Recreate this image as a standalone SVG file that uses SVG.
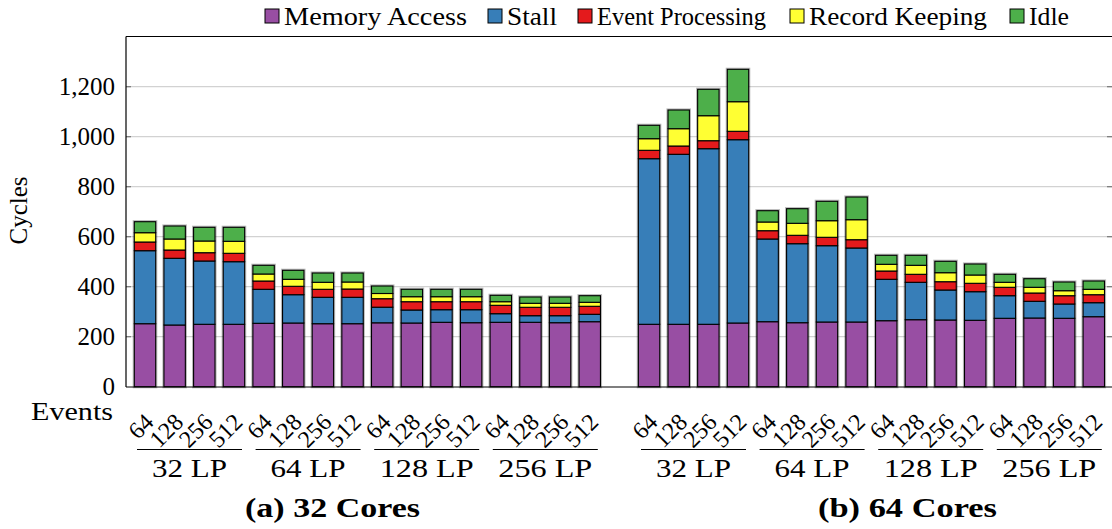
<svg xmlns="http://www.w3.org/2000/svg" width="1112" height="529" viewBox="0 0 1112 529" font-family="'Liberation Serif', 'Times New Roman', 'DejaVu Serif', serif">
<style>
text{font-family:'Liberation Serif','Times New Roman','DejaVu Serif',serif;fill:#000}
.t{font-size:25px}
.tk{font-size:24px}
.cap{font-size:27px;font-weight:bold}
.grid{stroke:#d2d2d2;stroke-width:1.3}
.tick{stroke:#777;stroke-width:1.2}
.frame{stroke:#000;stroke-width:1.2;fill:none}
.sh{fill:none;stroke:#000;stroke-opacity:.28;stroke-width:3.2}
.seg{stroke:#000;stroke-width:1.1}
.p{fill:#984EA3}.b{fill:#377EB8}.r{fill:#E41A1C}.y{fill:#FFFF33}.g{fill:#4DAF4A}
.gl{stroke:#000;stroke-width:1.2}
.lg{stroke:#000;stroke-width:1}
</style>

<g id="grid">
<line class="grid" x1="126" y1="336.7" x2="1112" y2="336.7"/>
<line class="grid" x1="126" y1="286.7" x2="1112" y2="286.7"/>
<line class="grid" x1="126" y1="236.7" x2="1112" y2="236.7"/>
<line class="grid" x1="126" y1="186.7" x2="1112" y2="186.7"/>
<line class="grid" x1="126" y1="136.7" x2="1112" y2="136.7"/>
<line class="grid" x1="126" y1="86.7" x2="1112" y2="86.7"/>
<g class="tick">
<line x1="126" y1="336.7" x2="131" y2="336.7"/><line x1="1107" y1="336.7" x2="1112" y2="336.7"/>
<line x1="126" y1="286.7" x2="131" y2="286.7"/><line x1="1107" y1="286.7" x2="1112" y2="286.7"/>
<line x1="126" y1="236.7" x2="131" y2="236.7"/><line x1="1107" y1="236.7" x2="1112" y2="236.7"/>
<line x1="126" y1="186.7" x2="131" y2="186.7"/><line x1="1107" y1="186.7" x2="1112" y2="186.7"/>
<line x1="126" y1="136.7" x2="131" y2="136.7"/><line x1="1107" y1="136.7" x2="1112" y2="136.7"/>
<line x1="126" y1="86.7" x2="131" y2="86.7"/><line x1="1107" y1="86.7" x2="1112" y2="86.7"/>
</g>
</g>

<g id="bars">
<g id="bar-32c-32lp-64" transform="translate(134.3,0)"><rect class="sh" x="0" y="221.7" width="21.4" height="165"/><rect class="seg p" x="0" y="323.7" width="21.4" height="63"/><rect class="seg b" x="0" y="250.7" width="21.4" height="73"/><rect class="seg r" x="0" y="242" width="21.4" height="8.7"/><rect class="seg y" x="0" y="232.7" width="21.4" height="9.3"/><rect class="seg g" x="0" y="221.7" width="21.4" height="11"/></g>
<g id="bar-32c-32lp-128" transform="translate(163.95,0)"><rect class="sh" x="0" y="226" width="21.4" height="160.7"/><rect class="seg p" x="0" y="325" width="21.4" height="61.7"/><rect class="seg b" x="0" y="258.3" width="21.4" height="66.7"/><rect class="seg r" x="0" y="250" width="21.4" height="8.3"/><rect class="seg y" x="0" y="239" width="21.4" height="11"/><rect class="seg g" x="0" y="226" width="21.4" height="13"/></g>
<g id="bar-32c-32lp-256" transform="translate(193.6,0)"><rect class="sh" x="0" y="227.3" width="21.4" height="159.4"/><rect class="seg p" x="0" y="324.3" width="21.4" height="62.4"/><rect class="seg b" x="0" y="261" width="21.4" height="63.3"/><rect class="seg r" x="0" y="252.7" width="21.4" height="8.3"/><rect class="seg y" x="0" y="241" width="21.4" height="11.7"/><rect class="seg g" x="0" y="227.3" width="21.4" height="13.7"/></g>
<g id="bar-32c-32lp-512" transform="translate(223.25,0)"><rect class="sh" x="0" y="227.3" width="21.4" height="159.4"/><rect class="seg p" x="0" y="324.3" width="21.4" height="62.4"/><rect class="seg b" x="0" y="261.7" width="21.4" height="62.6"/><rect class="seg r" x="0" y="253.3" width="21.4" height="8.4"/><rect class="seg y" x="0" y="241.3" width="21.4" height="12"/><rect class="seg g" x="0" y="227.3" width="21.4" height="14"/></g>
<g id="bar-32c-64lp-64" transform="translate(252.9,0)"><rect class="sh" x="0" y="265.3" width="21.4" height="121.4"/><rect class="seg p" x="0" y="323.3" width="21.4" height="63.4"/><rect class="seg b" x="0" y="289.3" width="21.4" height="34"/><rect class="seg r" x="0" y="281" width="21.4" height="8.3"/><rect class="seg y" x="0" y="274" width="21.4" height="7"/><rect class="seg g" x="0" y="265.3" width="21.4" height="8.7"/></g>
<g id="bar-32c-64lp-128" transform="translate(282.55,0)"><rect class="sh" x="0" y="270.3" width="21.4" height="116.4"/><rect class="seg p" x="0" y="323" width="21.4" height="63.7"/><rect class="seg b" x="0" y="294.7" width="21.4" height="28.3"/><rect class="seg r" x="0" y="286.3" width="21.4" height="8.4"/><rect class="seg y" x="0" y="279.3" width="21.4" height="7"/><rect class="seg g" x="0" y="270.3" width="21.4" height="9"/></g>
<g id="bar-32c-64lp-256" transform="translate(312.2,0)"><rect class="sh" x="0" y="273" width="21.4" height="113.7"/><rect class="seg p" x="0" y="323.7" width="21.4" height="63"/><rect class="seg b" x="0" y="297.3" width="21.4" height="26.4"/><rect class="seg r" x="0" y="289.3" width="21.4" height="8"/><rect class="seg y" x="0" y="282.3" width="21.4" height="7"/><rect class="seg g" x="0" y="273" width="21.4" height="9.3"/></g>
<g id="bar-32c-64lp-512" transform="translate(341.85,0)"><rect class="sh" x="0" y="273" width="21.4" height="113.7"/><rect class="seg p" x="0" y="323.7" width="21.4" height="63"/><rect class="seg b" x="0" y="297.3" width="21.4" height="26.4"/><rect class="seg r" x="0" y="289" width="21.4" height="8.3"/><rect class="seg y" x="0" y="282" width="21.4" height="7"/><rect class="seg g" x="0" y="273" width="21.4" height="9"/></g>
<g id="bar-32c-128lp-64" transform="translate(371.5,0)"><rect class="sh" x="0" y="286" width="21.4" height="100.7"/><rect class="seg p" x="0" y="322.8" width="21.4" height="63.9"/><rect class="seg b" x="0" y="307.2" width="21.4" height="15.6"/><rect class="seg r" x="0" y="298.7" width="21.4" height="8.5"/><rect class="seg y" x="0" y="293.5" width="21.4" height="5.2"/><rect class="seg g" x="0" y="286" width="21.4" height="7.5"/></g>
<g id="bar-32c-128lp-128" transform="translate(401.15,0)"><rect class="sh" x="0" y="289.3" width="21.4" height="97.4"/><rect class="seg p" x="0" y="323" width="21.4" height="63.7"/><rect class="seg b" x="0" y="310" width="21.4" height="13"/><rect class="seg r" x="0" y="301.7" width="21.4" height="8.3"/><rect class="seg y" x="0" y="296.7" width="21.4" height="5"/><rect class="seg g" x="0" y="289.3" width="21.4" height="7.4"/></g>
<g id="bar-32c-128lp-256" transform="translate(430.8,0)"><rect class="sh" x="0" y="289.3" width="21.4" height="97.4"/><rect class="seg p" x="0" y="322.3" width="21.4" height="64.4"/><rect class="seg b" x="0" y="309.7" width="21.4" height="12.6"/><rect class="seg r" x="0" y="301.7" width="21.4" height="8"/><rect class="seg y" x="0" y="296.7" width="21.4" height="5"/><rect class="seg g" x="0" y="289.3" width="21.4" height="7.4"/></g>
<g id="bar-32c-128lp-512" transform="translate(460.45,0)"><rect class="sh" x="0" y="289.3" width="21.4" height="97.4"/><rect class="seg p" x="0" y="322.7" width="21.4" height="64"/><rect class="seg b" x="0" y="309.7" width="21.4" height="13"/><rect class="seg r" x="0" y="301.7" width="21.4" height="8"/><rect class="seg y" x="0" y="296.7" width="21.4" height="5"/><rect class="seg g" x="0" y="289.3" width="21.4" height="7.4"/></g>
<g id="bar-32c-256lp-64" transform="translate(490.1,0)"><rect class="sh" x="0" y="295.3" width="21.4" height="91.4"/><rect class="seg p" x="0" y="322.3" width="21.4" height="64.4"/><rect class="seg b" x="0" y="313.7" width="21.4" height="8.6"/><rect class="seg r" x="0" y="305.3" width="21.4" height="8.4"/><rect class="seg y" x="0" y="301.7" width="21.4" height="3.6"/><rect class="seg g" x="0" y="295.3" width="21.4" height="6.4"/></g>
<g id="bar-32c-256lp-128" transform="translate(519.75,0)"><rect class="sh" x="0" y="297" width="21.4" height="89.7"/><rect class="seg p" x="0" y="322.3" width="21.4" height="64.4"/><rect class="seg b" x="0" y="315.7" width="21.4" height="6.6"/><rect class="seg r" x="0" y="307.3" width="21.4" height="8.4"/><rect class="seg y" x="0" y="303.3" width="21.4" height="4"/><rect class="seg g" x="0" y="297" width="21.4" height="6.3"/></g>
<g id="bar-32c-256lp-256" transform="translate(549.4,0)"><rect class="sh" x="0" y="297" width="21.4" height="89.7"/><rect class="seg p" x="0" y="322.7" width="21.4" height="64"/><rect class="seg b" x="0" y="315.7" width="21.4" height="7"/><rect class="seg r" x="0" y="307.3" width="21.4" height="8.4"/><rect class="seg y" x="0" y="303.3" width="21.4" height="4"/><rect class="seg g" x="0" y="297" width="21.4" height="6.3"/></g>
<g id="bar-32c-256lp-512" transform="translate(579.05,0)"><rect class="sh" x="0" y="295.7" width="21.4" height="91"/><rect class="seg p" x="0" y="321.7" width="21.4" height="65"/><rect class="seg b" x="0" y="314.3" width="21.4" height="7.4"/><rect class="seg r" x="0" y="306.3" width="21.4" height="8"/><rect class="seg y" x="0" y="302.3" width="21.4" height="4"/><rect class="seg g" x="0" y="295.7" width="21.4" height="6.6"/></g>

<g id="bar-64c-32lp-64" transform="translate(638.35,0)"><rect class="sh" x="0" y="125.3" width="21.4" height="261.4"/><rect class="seg p" x="0" y="324.3" width="21.4" height="62.4"/><rect class="seg b" x="0" y="158.7" width="21.4" height="165.6"/><rect class="seg r" x="0" y="150.3" width="21.4" height="8.4"/><rect class="seg y" x="0" y="138.7" width="21.4" height="11.6"/><rect class="seg g" x="0" y="125.3" width="21.4" height="13.4"/></g>
<g id="bar-64c-32lp-128" transform="translate(668,0)"><rect class="sh" x="0" y="110" width="21.4" height="276.7"/><rect class="seg p" x="0" y="324.3" width="21.4" height="62.4"/><rect class="seg b" x="0" y="154.3" width="21.4" height="170"/><rect class="seg r" x="0" y="146" width="21.4" height="8.3"/><rect class="seg y" x="0" y="128.7" width="21.4" height="17.3"/><rect class="seg g" x="0" y="110" width="21.4" height="18.7"/></g>
<g id="bar-64c-32lp-256" transform="translate(697.65,0)"><rect class="sh" x="0" y="89.3" width="21.4" height="297.4"/><rect class="seg p" x="0" y="324.3" width="21.4" height="62.4"/><rect class="seg b" x="0" y="148.7" width="21.4" height="175.6"/><rect class="seg r" x="0" y="140.7" width="21.4" height="8"/><rect class="seg y" x="0" y="115.7" width="21.4" height="25"/><rect class="seg g" x="0" y="89.3" width="21.4" height="26.4"/></g>
<g id="bar-64c-32lp-512" transform="translate(727.3,0)"><rect class="sh" x="0" y="69.3" width="21.4" height="317.4"/><rect class="seg p" x="0" y="323" width="21.4" height="63.7"/><rect class="seg b" x="0" y="139.7" width="21.4" height="183.3"/><rect class="seg r" x="0" y="131.3" width="21.4" height="8.4"/><rect class="seg y" x="0" y="101.7" width="21.4" height="29.6"/><rect class="seg g" x="0" y="69.3" width="21.4" height="32.4"/></g>
<g id="bar-64c-64lp-64" transform="translate(756.95,0)"><rect class="sh" x="0" y="210.7" width="21.4" height="176"/><rect class="seg p" x="0" y="321.7" width="21.4" height="65"/><rect class="seg b" x="0" y="239" width="21.4" height="82.7"/><rect class="seg r" x="0" y="230.7" width="21.4" height="8.3"/><rect class="seg y" x="0" y="222" width="21.4" height="8.7"/><rect class="seg g" x="0" y="210.7" width="21.4" height="11.3"/></g>
<g id="bar-64c-64lp-128" transform="translate(786.6,0)"><rect class="sh" x="0" y="208.7" width="21.4" height="178"/><rect class="seg p" x="0" y="322.7" width="21.4" height="64"/><rect class="seg b" x="0" y="243.7" width="21.4" height="79"/><rect class="seg r" x="0" y="235.3" width="21.4" height="8.4"/><rect class="seg y" x="0" y="223.3" width="21.4" height="12"/><rect class="seg g" x="0" y="208.7" width="21.4" height="14.6"/></g>
<g id="bar-64c-64lp-256" transform="translate(816.25,0)"><rect class="sh" x="0" y="201.3" width="21.4" height="185.4"/><rect class="seg p" x="0" y="322" width="21.4" height="64.7"/><rect class="seg b" x="0" y="245.7" width="21.4" height="76.3"/><rect class="seg r" x="0" y="237.3" width="21.4" height="8.4"/><rect class="seg y" x="0" y="220.7" width="21.4" height="16.6"/><rect class="seg g" x="0" y="201.3" width="21.4" height="19.4"/></g>
<g id="bar-64c-64lp-512" transform="translate(845.9,0)"><rect class="sh" x="0" y="197" width="21.4" height="189.7"/><rect class="seg p" x="0" y="322" width="21.4" height="64.7"/><rect class="seg b" x="0" y="248" width="21.4" height="74"/><rect class="seg r" x="0" y="239.7" width="21.4" height="8.3"/><rect class="seg y" x="0" y="219.7" width="21.4" height="20"/><rect class="seg g" x="0" y="197" width="21.4" height="22.7"/></g>
<g id="bar-64c-128lp-64" transform="translate(875.55,0)"><rect class="sh" x="0" y="255.3" width="21.4" height="131.4"/><rect class="seg p" x="0" y="320.7" width="21.4" height="66"/><rect class="seg b" x="0" y="279.3" width="21.4" height="41.4"/><rect class="seg r" x="0" y="271" width="21.4" height="8.3"/><rect class="seg y" x="0" y="264.3" width="21.4" height="6.7"/><rect class="seg g" x="0" y="255.3" width="21.4" height="9"/></g>
<g id="bar-64c-128lp-128" transform="translate(905.2,0)"><rect class="sh" x="0" y="255.3" width="21.4" height="131.4"/><rect class="seg p" x="0" y="319.7" width="21.4" height="67"/><rect class="seg b" x="0" y="282.3" width="21.4" height="37.4"/><rect class="seg r" x="0" y="274.3" width="21.4" height="8"/><rect class="seg y" x="0" y="265.3" width="21.4" height="9"/><rect class="seg g" x="0" y="255.3" width="21.4" height="10"/></g>
<g id="bar-64c-128lp-256" transform="translate(934.85,0)"><rect class="sh" x="0" y="261.3" width="21.4" height="125.4"/><rect class="seg p" x="0" y="320" width="21.4" height="66.7"/><rect class="seg b" x="0" y="290" width="21.4" height="30"/><rect class="seg r" x="0" y="281.7" width="21.4" height="8.3"/><rect class="seg y" x="0" y="272.7" width="21.4" height="9"/><rect class="seg g" x="0" y="261.3" width="21.4" height="11.4"/></g>
<g id="bar-64c-128lp-512" transform="translate(964.5,0)"><rect class="sh" x="0" y="264" width="21.4" height="122.7"/><rect class="seg p" x="0" y="320.3" width="21.4" height="66.4"/><rect class="seg b" x="0" y="291.7" width="21.4" height="28.6"/><rect class="seg r" x="0" y="283.3" width="21.4" height="8.4"/><rect class="seg y" x="0" y="275" width="21.4" height="8.3"/><rect class="seg g" x="0" y="264" width="21.4" height="11"/></g>
<g id="bar-64c-256lp-64" transform="translate(994.15,0)"><rect class="sh" x="0" y="274.3" width="21.4" height="112.4"/><rect class="seg p" x="0" y="318.3" width="21.4" height="68.4"/><rect class="seg b" x="0" y="295.7" width="21.4" height="22.6"/><rect class="seg r" x="0" y="287.3" width="21.4" height="8.4"/><rect class="seg y" x="0" y="282.3" width="21.4" height="5"/><rect class="seg g" x="0" y="274.3" width="21.4" height="8"/></g>
<g id="bar-64c-256lp-128" transform="translate(1023.8,0)"><rect class="sh" x="0" y="278.7" width="21.4" height="108"/><rect class="seg p" x="0" y="318" width="21.4" height="68.7"/><rect class="seg b" x="0" y="301.3" width="21.4" height="16.7"/><rect class="seg r" x="0" y="293" width="21.4" height="8.3"/><rect class="seg y" x="0" y="287.3" width="21.4" height="5.7"/><rect class="seg g" x="0" y="278.7" width="21.4" height="8.6"/></g>
<g id="bar-64c-256lp-256" transform="translate(1053.45,0)"><rect class="sh" x="0" y="282" width="21.4" height="104.7"/><rect class="seg p" x="0" y="318.3" width="21.4" height="68.4"/><rect class="seg b" x="0" y="304" width="21.4" height="14.3"/><rect class="seg r" x="0" y="295.7" width="21.4" height="8.3"/><rect class="seg y" x="0" y="290.7" width="21.4" height="5"/><rect class="seg g" x="0" y="282" width="21.4" height="8.7"/></g>
<g id="bar-64c-256lp-512" transform="translate(1083.1,0)"><rect class="sh" x="0" y="281" width="21.4" height="105.7"/><rect class="seg p" x="0" y="316.7" width="21.4" height="70"/><rect class="seg b" x="0" y="302.7" width="21.4" height="14"/><rect class="seg r" x="0" y="294.7" width="21.4" height="8"/><rect class="seg y" x="0" y="289.3" width="21.4" height="5.4"/><rect class="seg g" x="0" y="281" width="21.4" height="8.3"/></g>
</g>

<g id="axes">
<line class="frame" x1="126" y1="36.5" x2="1112" y2="36.5"/>
<line class="frame" x1="126" y1="36.5" x2="126" y2="387"/>
<line class="frame" x1="126" y1="387" x2="1112" y2="387"/>
</g>

<g id="y-labels" class="t" text-anchor="end" font-family="'Liberation Serif', serif" font-size="25">
<text x="115" y="395">0</text>
<text x="115" y="345">200</text>
<text x="115" y="295">400</text>
<text x="115" y="245">600</text>
<text x="115" y="195">800</text>
<text x="115" y="145">1,000</text>
<text x="115" y="95">1,200</text>
</g>
<text id="y-title" class="t" font-family="'Liberation Serif', serif" font-size="25" text-anchor="middle" transform="translate(27,210.5) rotate(-90)">Cycles</text>
<text id="x-title" class="t" font-family="'Liberation Serif', serif" font-size="25" x="113" y="420" text-anchor="end" textLength="82" lengthAdjust="spacingAndGlyphs">Events</text>

<g id="x-labels" class="tk" text-anchor="end" font-family="'Liberation Serif', serif" font-size="24">
<text transform="translate(155,423.5) rotate(-45)">64</text>
<text transform="translate(184.65,423.5) rotate(-45)">128</text>
<text transform="translate(214.3,423.5) rotate(-45)">256</text>
<text transform="translate(243.95,423.5) rotate(-45)">512</text>
<text transform="translate(273.6,423.5) rotate(-45)">64</text>
<text transform="translate(303.25,423.5) rotate(-45)">128</text>
<text transform="translate(332.9,423.5) rotate(-45)">256</text>
<text transform="translate(362.55,423.5) rotate(-45)">512</text>
<text transform="translate(392.2,423.5) rotate(-45)">64</text>
<text transform="translate(421.85,423.5) rotate(-45)">128</text>
<text transform="translate(451.5,423.5) rotate(-45)">256</text>
<text transform="translate(481.15,423.5) rotate(-45)">512</text>
<text transform="translate(510.8,423.5) rotate(-45)">64</text>
<text transform="translate(540.45,423.5) rotate(-45)">128</text>
<text transform="translate(570.1,423.5) rotate(-45)">256</text>
<text transform="translate(599.75,423.5) rotate(-45)">512</text>
<text transform="translate(659.05,423.5) rotate(-45)">64</text>
<text transform="translate(688.7,423.5) rotate(-45)">128</text>
<text transform="translate(718.35,423.5) rotate(-45)">256</text>
<text transform="translate(748,423.5) rotate(-45)">512</text>
<text transform="translate(777.65,423.5) rotate(-45)">64</text>
<text transform="translate(807.3,423.5) rotate(-45)">128</text>
<text transform="translate(836.95,423.5) rotate(-45)">256</text>
<text transform="translate(866.6,423.5) rotate(-45)">512</text>
<text transform="translate(896.25,423.5) rotate(-45)">64</text>
<text transform="translate(925.9,423.5) rotate(-45)">128</text>
<text transform="translate(955.55,423.5) rotate(-45)">256</text>
<text transform="translate(985.2,423.5) rotate(-45)">512</text>
<text transform="translate(1014.85,423.5) rotate(-45)">64</text>
<text transform="translate(1044.5,423.5) rotate(-45)">128</text>
<text transform="translate(1074.15,423.5) rotate(-45)">256</text>
<text transform="translate(1103.8,423.5) rotate(-45)">512</text>
</g>

<g id="group-labels">
<g class="gl">
<line x1="137" y1="449.5" x2="242" y2="449.5"/>
<line x1="255.6" y1="449.5" x2="360.6" y2="449.5"/>
<line x1="374.2" y1="449.5" x2="479.2" y2="449.5"/>
<line x1="492.8" y1="449.5" x2="597.8" y2="449.5"/>
<line x1="641" y1="449.5" x2="746" y2="449.5"/>
<line x1="759.6" y1="449.5" x2="864.6" y2="449.5"/>
<line x1="878.2" y1="449.5" x2="983.2" y2="449.5"/>
<line x1="996.8" y1="449.5" x2="1101.8" y2="449.5"/>
</g>
<g class="t" text-anchor="middle" font-family="'Liberation Serif', serif" font-size="25">
<text x="189.5" y="477" textLength="75" lengthAdjust="spacingAndGlyphs">32 LP</text>
<text x="308.1" y="477" textLength="75" lengthAdjust="spacingAndGlyphs">64 LP</text>
<text x="426.7" y="477" textLength="94" lengthAdjust="spacingAndGlyphs">128 LP</text>
<text x="545.3" y="477" textLength="94" lengthAdjust="spacingAndGlyphs">256 LP</text>
<text x="693.5" y="477" textLength="75" lengthAdjust="spacingAndGlyphs">32 LP</text>
<text x="812.1" y="477" textLength="75" lengthAdjust="spacingAndGlyphs">64 LP</text>
<text x="930.7" y="477" textLength="94" lengthAdjust="spacingAndGlyphs">128 LP</text>
<text x="1049.3" y="477" textLength="94" lengthAdjust="spacingAndGlyphs">256 LP</text>
</g>
</g>

<g id="captions" class="cap" font-family="'Liberation Serif', serif" font-size="27" font-weight="bold">
<text x="245" y="517" textLength="175" lengthAdjust="spacingAndGlyphs">(a) 32 Cores</text>
<text x="818" y="517" textLength="179" lengthAdjust="spacingAndGlyphs">(b) 64 Cores</text>
</g>

<g id="legend">
<g class="lg">
<rect class="p" x="265" y="9" width="14" height="14"/>
<rect class="b" x="488" y="9" width="14" height="14"/>
<rect class="r" x="578" y="9" width="14" height="14"/>
<rect class="y" x="790" y="9" width="14" height="14"/>
<rect class="g" x="1010" y="9" width="14" height="14"/>
</g>
<g class="t" font-family="'Liberation Serif', serif" font-size="25">
<text x="284" y="25" textLength="183" lengthAdjust="spacingAndGlyphs">Memory Access</text>
<text x="507" y="25" textLength="50" lengthAdjust="spacingAndGlyphs">Stall</text>
<text x="597" y="25" textLength="169" lengthAdjust="spacingAndGlyphs">Event Processing</text>
<text x="809" y="25" textLength="178" lengthAdjust="spacingAndGlyphs">Record Keeping</text>
<text x="1029" y="25" textLength="40" lengthAdjust="spacingAndGlyphs">Idle</text>
</g>
</g>
</svg>
